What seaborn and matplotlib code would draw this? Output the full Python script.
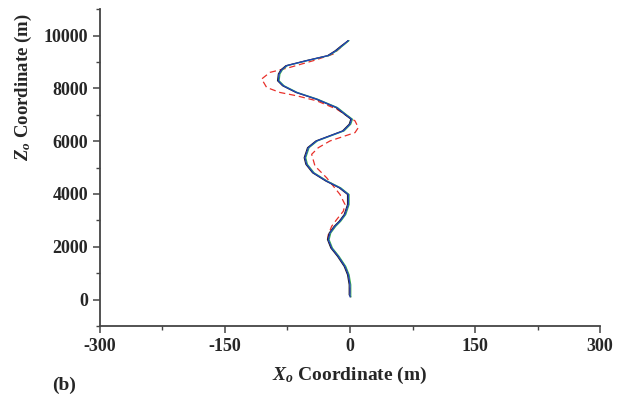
import matplotlib
matplotlib.use("Agg")
import matplotlib.pyplot as plt
import seaborn as sns
import pandas as pd
from matplotlib.ticker import MultipleLocator

sns.set_theme(style="ticks")
plt.rcParams['font.family'] = ['Liberation Serif', 'DejaVu Serif']
plt.rcParams['mathtext.fontset'] = 'custom'
plt.rcParams['mathtext.it'] = 'Liberation Serif:italic:bold'
plt.rcParams['mathtext.rm'] = 'Liberation Serif:bold'
plt.rcParams['axes.unicode_minus'] = False

# Blue (measured) trajectory
z_blue = [9810, 9600, 9420, 9240, 9049, 8859, 8700, 8544, 8289, 8099, 7844, 7593, 7274, 7000,
          6833, 6643, 6388, 6198, 6008, 5753, 5373, 5122, 4802, 4487, 4232, 3981, 3601, 3221,
          2966, 2776, 2521, 2270, 1951, 1635, 1255, 939, 559, 179, 100]
x_blue = [-2, -10, -17, -26, -52, -76, -82, -85, -86, -80, -64, -40, -16, -5,
          2, 0, -8, -24, -40, -50, -54, -52, -44, -28, -12, -2, -2, -6,
          -12, -18, -24, -26, -22, -14, -6, -2, 0, 0, 0]
# Black trajectory
x_black = [-2, -11, -18, -27, -53, -77, -83, -86, -87, -81, -65, -41, -17, -6,
           1, -1, -9, -25, -41, -51, -55, -53, -45, -29, -13, -3, -3, -7,
           -13, -19, -25, -27, -23, -15, -7, -3, -1, -1, 1]
# Green trajectory
x_green = [-1, -9, -16, -25, -51, -75, -81, -84, -85, -79, -63, -39, -15, -4,
           3, 1, -7, -23, -39, -49, -53, -51, -43, -27, -11, -1, -1, -5,
           -11, -17, -23, -25, -21, -13, -5, -1, 1, 1, 1]
# Red dashed trajectory
z_red = [9810, 9300, 9049, 8795, 8605, 8354, 8034, 7844, 7719, 7529, 7213, 6768, 6513, 6323,
         6198, 6008, 5753, 5502, 5057, 4612, 3981, 3601, 3346, 3030, 2776, 2460, 2270, 1951,
         1635, 1255, 939, 559, 179, 100]
x_red = [-2, -20, -44, -72, -96, -106, -100, -84, -64, -40, -16, 6, 10, 6,
         -6, -24, -38, -46, -42, -28, -12, -6, -8, -16, -22, -26, -27, -22,
         -14, -6, -2, 0, 0, 0]

fig = plt.figure(figsize=(6.17, 3.98), dpi=100)
ax = fig.add_axes([0.162, 0.181, 0.8105, 0.796])

def draw(x, z, color, ls, lw):
    df = pd.DataFrame({"x": x, "z": z})
    sns.lineplot(data=df, x="x", y="z", sort=False, estimator=None, color=color,
                 linestyle=ls, linewidth=lw, ax=ax)

draw(x_red, z_red, "#e8302a", (0, (5, 3)), 0.9)
draw(x_black, z_blue, "#222222", "-", 0.8)
draw(x_green, z_blue, "#3cb44b", "-", 0.8)
draw(x_blue, z_blue, "#1f3fbf", "-", 0.9)

ax.set_xlim(-300, 300)
ax.set_ylim(-1000, 11000)
ax.xaxis.set_major_locator(MultipleLocator(150))
ax.xaxis.set_minor_locator(MultipleLocator(75))
ax.yaxis.set_minor_locator(MultipleLocator(1000))
ax.set_yticks([0, 2000, 4000, 6000, 8000, 10000])

sns.despine(ax=ax)
for s in ["left", "bottom"]:
    ax.spines[s].set_color("#444444")
    ax.spines[s].set_linewidth(1.3)
ax.tick_params(which="major", direction="out", length=5, width=1.1, color="#444444",
               labelsize=13)
ax.tick_params(which="minor", direction="out", length=3, width=1.0, color="#444444")
for lab in ax.get_xticklabels() + ax.get_yticklabels():
    lab.set_fontweight("bold")

ax.set_xlabel(r"$X_o$ Coordinate (m)", fontsize=14, fontweight="bold", labelpad=7)
ax.set_ylabel(r"$Z_o$ Coordinate (m)", fontsize=13.5, fontweight="bold")
ax.yaxis.set_label_coords(-0.132, 0.754)
fig.text(0.084, 0.02, "(b)", fontsize=14, fontweight="bold")

fig.savefig("out.png", dpi=100)
